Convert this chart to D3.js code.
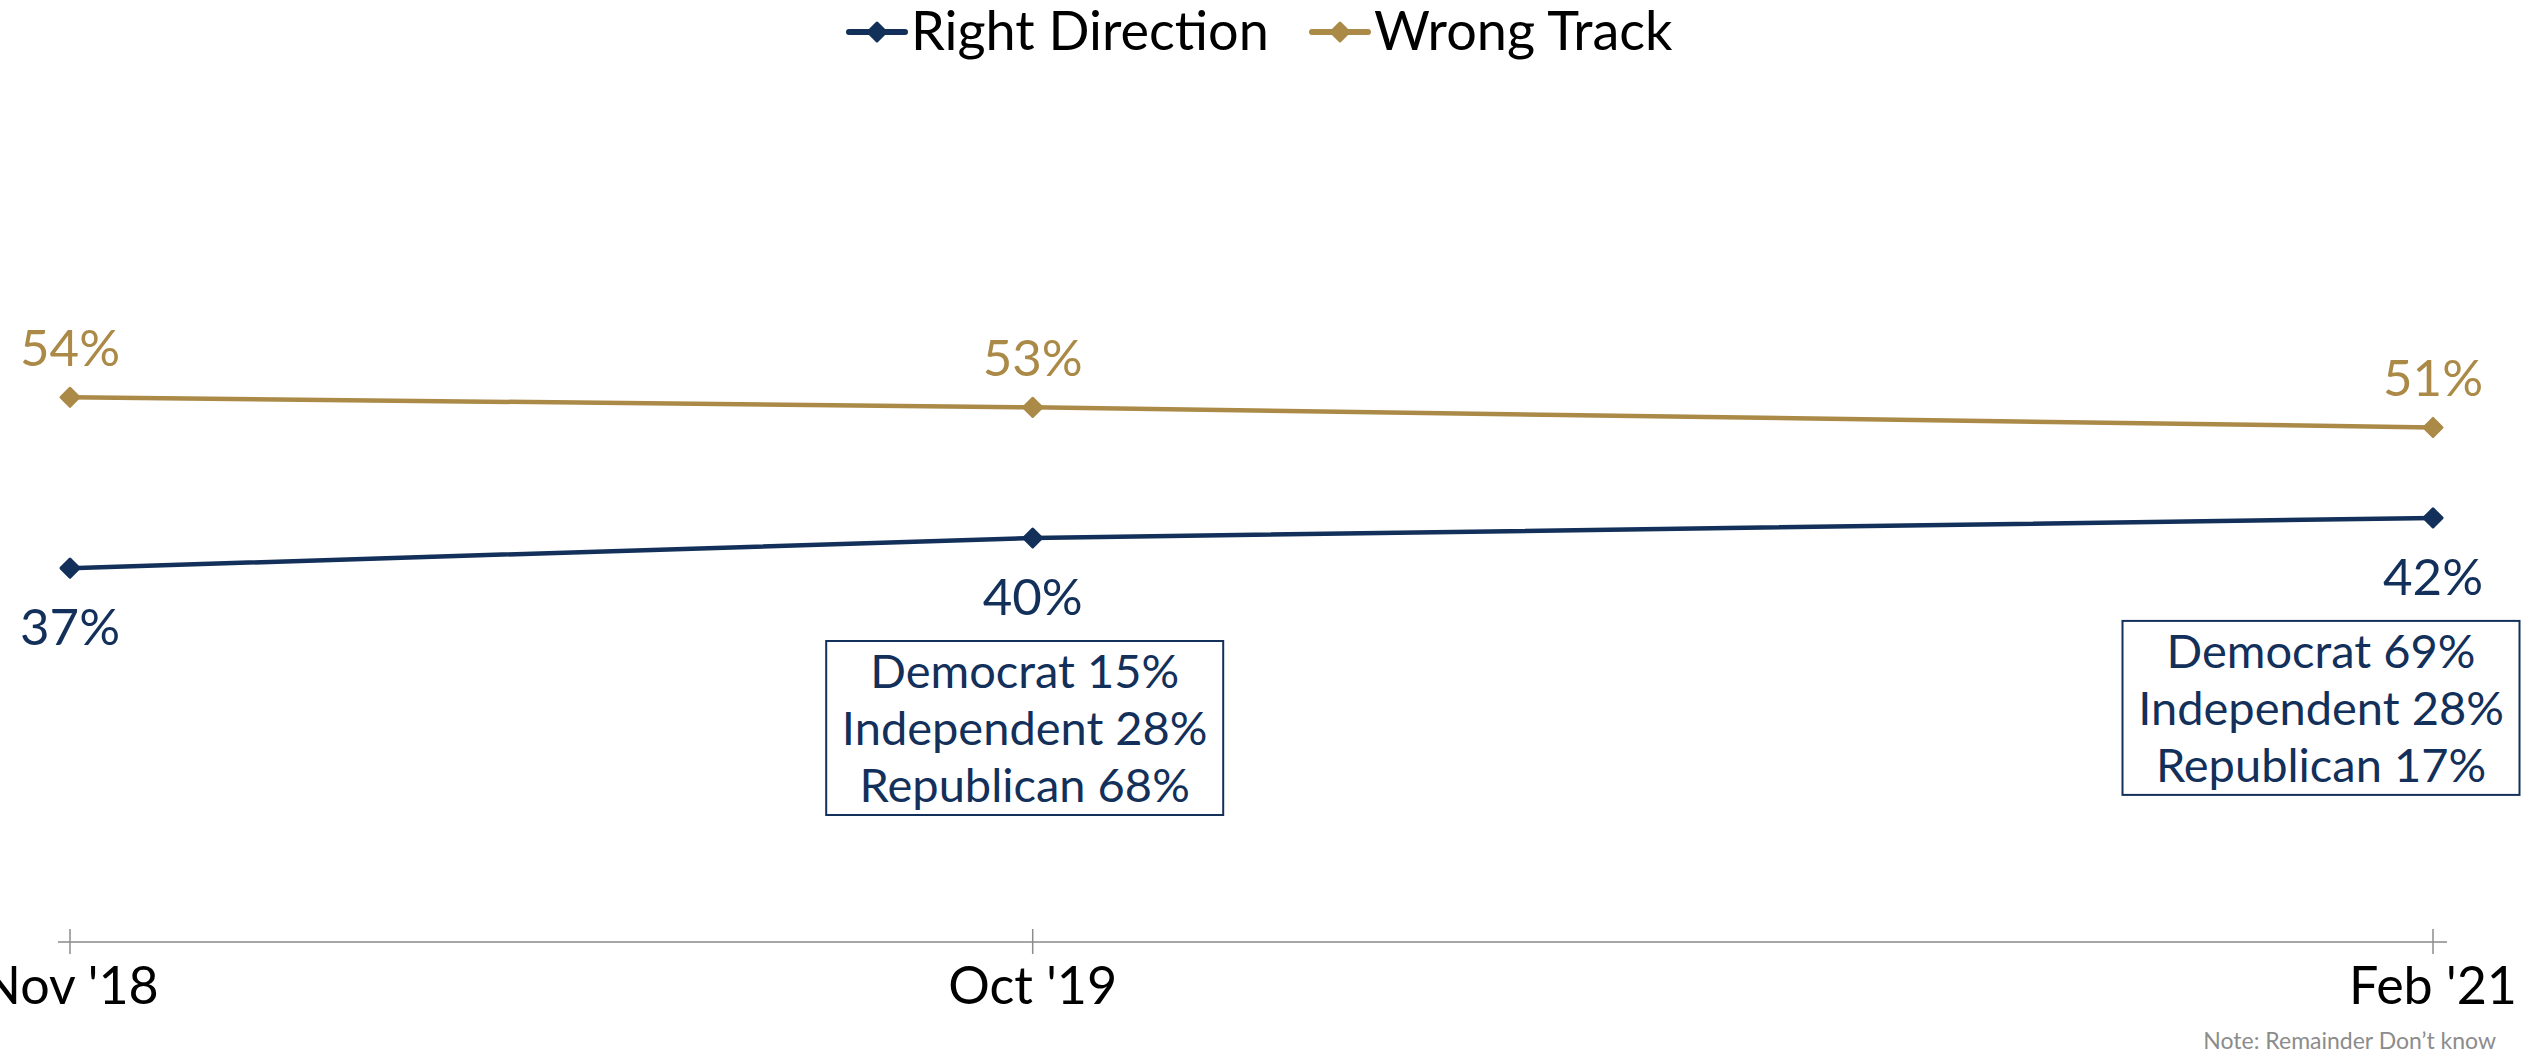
<!DOCTYPE html>
<html>
<head>
<meta charset="utf-8">
<script src="https://cdn.jsdelivr.net/npm/d3@7"></script>
<style>
  body { margin: 0; background: #fff; }
  text { font-family: Lato, "Noto Sans", sans-serif; }
</style>
</head>
<body>
<div id="chart"></div>
<script>
const dates = ["2018-11-01", "2019-10-01", "2021-02-01"]
const tickLabels = ["Nov '18", "Oct '19", "Feb '21"]
const rightDirection = [37, 40, 42]
const wrongTrack = [54, 53, 51]
const seriesNames = ["Right Direction", "Wrong Track"]
const colors = ["#13305a", "#ab8a48"]
// party breakdown boxes (date index, lines)
const boxIndex = [1, 2]
const boxLines = [
    ["Democrat 15%", "Independent 28%", "Republican 68%"],
    ["Democrat 69%", "Independent 28%", "Republican 17%"]
]
const note = "Note: Remainder Don\u2019t know"

const W = 2522, H = 1059

const parse = d3.timeParse("%Y-%m-%d")
const dt = dates.map(parse)
const start = dt[0]

const svg = d3.select("#chart").append("svg")
    .attr("width", W)
    .attr("height", H)

// Excel style date axis in month units
const x = d3.scaleLinear()
    .domain([0, d3.timeMonth.count(start, dt[dt.length - 1])])
    .range([70, 2433])
const xm = d => x(d3.timeMonth.count(start, d))

const y = d3.scaleLinear()
    .domain([0, 60])
    .range([940, 337])

// axis
const axisY = y(0) + 2
svg.append("line")
    .attr("x1", 58).attr("x2", 2447)
    .attr("y1", axisY).attr("y2", axisY)
    .attr("stroke", "#a6a6a6")
    .attr("stroke-width", 2)

svg.selectAll(".tick")
    .data(dt)
    .enter().append("line")
    .attr("class", "tick")
    .attr("x1", d => xm(d)).attr("x2", d => xm(d))
    .attr("y1", axisY - 13).attr("y2", axisY + 12)
    .attr("stroke", "#8c8c8c")
    .attr("stroke-width", 1.5)

svg.selectAll(".tlabel")
    .data(dt)
    .enter().append("text")
    .attr("class", "tlabel")
    .attr("x", d => xm(d))
    .attr("y", 1004)
    .attr("text-anchor", "middle")
    .style("font-size", "52px")
    .style("fill", "#000")
    .text((d, i) => tickLabels[i])

const diamond = r => `M0,${-r}L${r},0L0,${r}L${-r},0Z`

const series = [rightDirection, wrongTrack]
const line = d3.line()
    .x((d, i) => xm(dt[i]))
    .y(d => y(d))

series.forEach((vals, s) => {
    svg.append("path")
        .datum(vals)
        .attr("d", line)
        .attr("fill", "none")
        .attr("stroke", colors[s])
        .attr("stroke-width", 4.5)

    svg.selectAll(".m" + s)
        .data(vals)
        .enter().append("path")
        .attr("class", "m" + s)
        .attr("transform", (d, i) => "translate(" + xm(dt[i]) + "," + y(d) + ")")
        .attr("d", diamond(9))
        .attr("fill", colors[s])
        .attr("stroke", colors[s])
        .attr("stroke-width", 3)
        .attr("stroke-linejoin", "round")

    svg.selectAll(".l" + s)
        .data(vals)
        .enter().append("text")
        .attr("class", "l" + s)
        .attr("x", (d, i) => xm(dt[i]))
        .attr("y", d => s === 0 ? y(d) + 77 : y(d) - 31)
        .attr("text-anchor", "middle")
        .style("font-size", "51px")
        .style("fill", colors[s])
        .text(d => d + "%")
})

// breakdown boxes
const boxW = 397, boxH = 174
const boxShift = [-8, -112]
boxIndex.forEach((di, b) => {
    const cx = xm(dt[di]) + boxShift[b]
    const top = y(rightDirection[di]) + 103
    svg.append("rect")
        .attr("x", cx - boxW / 2)
        .attr("y", top)
        .attr("width", boxW)
        .attr("height", boxH)
        .attr("fill", "#fff")
        .attr("stroke", colors[0])
        .attr("stroke-width", 2)
    svg.selectAll(".b" + b)
        .data(boxLines[b])
        .enter().append("text")
        .attr("class", "b" + b)
        .attr("x", cx)
        .attr("y", (d, i) => top + 47 + i * 57)
        .attr("text-anchor", "middle")
        .style("font-size", "47px")
        .style("fill", colors[0])
        .text(d => d)
})

// legend
const legX = [849, 1312]
seriesNames.forEach((name, s) => {
    const g = svg.append("g").attr("transform", "translate(" + legX[s] + ",32)")
    g.append("line")
        .attr("x1", 0).attr("x2", 56)
        .attr("stroke", colors[s])
        .attr("stroke-width", 6)
        .attr("stroke-linecap", "round")
    g.append("path")
        .attr("transform", "translate(28,0)")
        .attr("d", diamond(9))
        .attr("fill", colors[s])
        .attr("stroke", colors[s])
        .attr("stroke-width", 3)
        .attr("stroke-linejoin", "round")
    g.append("text")
        .attr("x", 62)
        .attr("y", 18)
        .style("font-size", "54px")
        .style("fill", "#000")
        .text(name)
})

svg.append("text")
    .attr("x", 2496)
    .attr("y", 1049)
    .attr("text-anchor", "end")
    .style("font-size", "23px")
    .style("fill", "#8c8c8c")
    .text(note)
</script>
</body>
</html>
